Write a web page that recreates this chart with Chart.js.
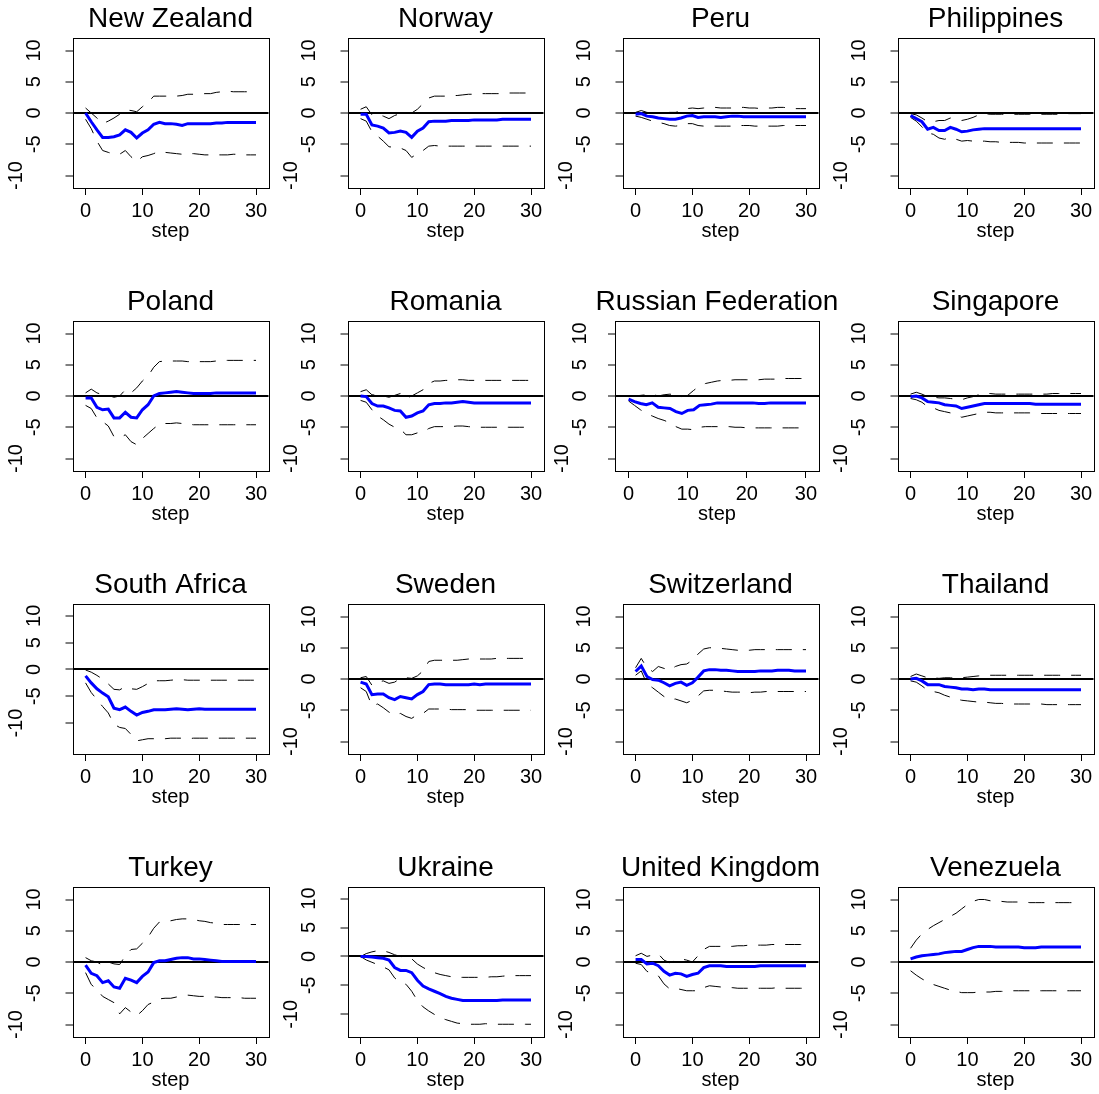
<!DOCTYPE html>
<html>
<head>
<meta charset="utf-8">
<script src="https://cdn.jsdelivr.net/npm/chart.js@4.4.1/dist/chart.umd.min.js"></script>
<style>
  html, body { margin: 0; padding: 0; background: #fff; overflow: hidden; }
  #griglia { position: relative; width: 1099px; height: 1094px; }
  .pannello { position: absolute; height: 245px; }
</style>
</head>
<body>
<div id="griglia"></div>
<script>
// --- DATI ---
const steps = [0, 1, 2, 3, 4, 5, 6, 7, 8, 9, 10, 11, 12, 13, 14, 15, 16, 17, 18, 19, 20, 21, 22, 23, 24, 25, 26, 27, 28, 29, 30];
const xTicks = [0, 10, 20, 30];
const yTicks = [-10, -5, 0, 5, 10];
const countries = ['New Zealand', 'Norway', 'Peru', 'Philippines', 'Poland', 'Romania', 'Russian Federation', 'Singapore',
  'South Africa', 'Sweden', 'Switzerland', 'Thailand', 'Turkey', 'Ukraine', 'United Kingdom', 'Venezuela'];

const irfNewZealand = [0, -1.4, -2.7, -3.9, -3.9, -3.8, -3.5, -2.7, -3.1, -4.0,
  -3.2, -2.7, -1.8, -1.5, -1.7, -1.7, -1.8, -2.0, -1.7, -1.7,
  -1.7, -1.7, -1.7, -1.6, -1.6, -1.5, -1.5, -1.5, -1.5, -1.5, -1.5];
const hiNewZealand = [0.8, 0.0, -0.8, -1.7, -1.3, -0.8, -0.2, 0.5, 0.4, 0.2,
  1.0, 1.7, 2.7, 2.7, 2.7, 2.7, 2.7, 2.8, 3.0, 3.0,
  3.0, 3.1, 3.1, 3.3, 3.4, 3.5, 3.4, 3.4, 3.4, 3.4, 3.5];
const loNewZealand = [-1.0, -2.5, -4.5, -6.0, -6.3, -6.6, -6.6, -6.0, -7.0, -7.8,
  -7.0, -6.8, -6.5, -6.1, -6.3, -6.4, -6.5, -6.6, -6.5, -6.5,
  -6.6, -6.7, -6.7, -6.7, -6.7, -6.7, -6.6, -6.6, -6.7, -6.7, -6.7];

const irfNorway = [-0.2, -0.2, -1.9, -2.1, -2.4, -3.2, -3.1, -2.9, -3.1, -3.9,
  -2.9, -2.4, -1.4, -1.3, -1.3, -1.3, -1.2, -1.2, -1.2, -1.2,
  -1.1, -1.1, -1.1, -1.1, -1.1, -1.0, -1.0, -1.0, -1.0, -1.0, -1.0];
const hiNorway = [0.6, 1.0, -0.3, -0.2, -0.5, -0.9, -0.4, -0.1, -0.1, 0.0,
  0.6, 1.5, 2.4, 2.7, 2.7, 2.7, 2.8, 2.8, 2.9, 3.0,
  3.0, 3.1, 3.1, 3.1, 3.1, 3.1, 3.2, 3.2, 3.2, 3.2, 3.2];
const loNorway = [-0.9, -1.3, -3.0, -3.7, -4.5, -5.4, -5.5, -5.6, -6.0, -7.1,
  -6.5, -6.0, -5.3, -5.2, -5.3, -5.3, -5.3, -5.3, -5.3, -5.3,
  -5.3, -5.3, -5.3, -5.3, -5.3, -5.3, -5.3, -5.3, -5.3, -5.3, -5.3];

const irfPeru = [-0.2, -0.1, -0.5, -0.6, -0.8, -0.9, -1.0, -1.0, -0.8, -0.5,
  -0.4, -0.7, -0.6, -0.6, -0.6, -0.7, -0.6, -0.5, -0.5, -0.6,
  -0.6, -0.6, -0.6, -0.6, -0.6, -0.6, -0.6, -0.6, -0.6, -0.6, -0.6];
const hiPeru = [0.1, 0.4, 0.1, 0.0, 0.0, 0.0, 0.1, 0.1, 0.3, 0.7,
  0.8, 0.7, 0.8, 0.9, 0.9, 0.8, 0.8, 0.8, 0.9, 0.9,
  0.8, 0.8, 0.7, 0.8, 0.8, 0.9, 0.9, 0.8, 0.7, 0.7, 0.7];
const loPeru = [-0.5, -0.7, -1.0, -1.3, -1.5, -1.7, -2.0, -2.1, -2.0, -1.7,
  -1.7, -2.0, -2.1, -2.1, -2.1, -2.1, -2.1, -2.1, -2.0, -2.0,
  -2.0, -2.1, -2.1, -2.1, -2.1, -2.1, -2.0, -2.0, -2.0, -2.0, -2.0];

const irfPhilippines = [-0.4, -0.9, -1.4, -2.6, -2.3, -2.8, -2.8, -2.3, -2.6, -3.0,
  -2.9, -2.7, -2.6, -2.5, -2.5, -2.5, -2.5, -2.5, -2.5, -2.5,
  -2.5, -2.5, -2.5, -2.5, -2.5, -2.5, -2.5, -2.5, -2.5, -2.5, -2.5];
const hiPhilippines = [-0.1, -0.3, -0.8, -1.4, -1.4, -1.2, -1.2, -0.8, -1.1, -1.2,
  -1.0, -0.7, -0.3, -0.1, -0.2, -0.2, -0.2, -0.2, -0.2, -0.2,
  -0.2, -0.2, -0.2, -0.2, -0.2, -0.2, -0.2, -0.1, -0.1, -0.1, -0.1];
const loPhilippines = [-0.7, -1.3, -2.2, -3.2, -3.4, -4.0, -4.2, -3.9, -4.2, -4.5,
  -4.4, -4.5, -4.5, -4.5, -4.6, -4.6, -4.7, -4.7, -4.7, -4.7,
  -4.8, -4.8, -4.8, -4.8, -4.8, -4.8, -4.8, -4.8, -4.8, -4.8, -4.8];

const irfPoland = [-0.3, -0.3, -1.8, -2.2, -2.1, -3.5, -3.5, -2.6, -3.4, -3.5,
  -2.2, -1.4, 0.0, 0.4, 0.5, 0.6, 0.7, 0.6, 0.5, 0.4,
  0.4, 0.4, 0.4, 0.5, 0.5, 0.5, 0.5, 0.5, 0.5, 0.5, 0.5];
const hiPoland = [0.5, 1.1, 0.5, 0.2, 0.1, -0.2, 0.0, 1.0, 0.5, 1.3,
  2.4, 3.2, 4.6, 5.5, 5.6, 5.6, 5.6, 5.6, 5.5, 5.5,
  5.5, 5.5, 5.5, 5.6, 5.7, 5.7, 5.7, 5.7, 5.7, 5.7, 5.7];
const loPoland = [-1.5, -2.0, -3.5, -4.1, -4.8, -6.5, -6.7, -6.2, -7.3, -7.8,
  -6.8, -6.0, -5.2, -4.5, -4.4, -4.4, -4.3, -4.4, -4.5, -4.6,
  -4.6, -4.6, -4.6, -4.6, -4.6, -4.6, -4.6, -4.6, -4.6, -4.6, -4.6];

const irfRomania = [0.0, -0.1, -1.2, -1.6, -1.6, -1.9, -2.3, -2.4, -3.4, -3.2,
  -2.7, -2.4, -1.4, -1.2, -1.2, -1.1, -1.1, -1.0, -0.9, -1.0,
  -1.1, -1.1, -1.1, -1.1, -1.1, -1.1, -1.1, -1.1, -1.1, -1.1, -1.1];
const hiRomania = [0.7, 1.0, 0.2, 0.1, 0.0, -0.2, 0.1, 0.4, -0.4, 0.0,
  0.5, 1.0, 2.0, 2.4, 2.4, 2.5, 2.5, 2.6, 2.6, 2.5,
  2.5, 2.5, 2.5, 2.5, 2.5, 2.5, 2.5, 2.5, 2.5, 2.5, 2.5];
const loRomania = [-0.7, -1.0, -2.2, -3.2, -3.8, -4.5, -5.0, -5.3, -6.2, -6.2,
  -5.9, -5.8, -5.2, -4.9, -4.9, -4.9, -4.9, -4.8, -4.8, -4.9,
  -5.0, -5.0, -5.0, -5.0, -5.0, -5.0, -5.0, -5.0, -5.0, -5.0, -5.0];

const irfRussia = [-0.5, -0.9, -1.2, -1.4, -1.1, -1.8, -1.9, -2.0, -2.5, -2.8,
  -2.3, -2.2, -1.5, -1.4, -1.3, -1.1, -1.1, -1.1, -1.1, -1.1,
  -1.1, -1.1, -1.2, -1.2, -1.1, -1.1, -1.1, -1.1, -1.1, -1.1, -1.1];
const hiRussia = [-0.1, 0.0, 0.1, 0.2, 0.3, 0.0, 0.2, 0.3, 0.1, -0.1,
  0.1, 0.9, 1.6, 2.0, 2.2, 2.4, 2.5, 2.5, 2.6, 2.6,
  2.6, 2.6, 2.6, 2.7, 2.7, 2.7, 2.8, 2.8, 2.8, 2.8, 2.8];
const loRussia = [-0.8, -1.5, -2.2, -2.8, -3.2, -3.6, -3.9, -4.3, -4.9, -5.3,
  -5.3, -5.4, -5.0, -4.9, -4.9, -4.9, -4.9, -4.9, -5.0, -5.0,
  -5.1, -5.1, -5.1, -5.1, -5.1, -5.1, -5.1, -5.1, -5.1, -5.1, -5.1];

const irfSingapore = [-0.1, 0.0, -0.3, -0.9, -1.0, -1.1, -1.4, -1.5, -1.6, -2.0,
  -1.8, -1.6, -1.4, -1.2, -1.2, -1.2, -1.2, -1.2, -1.2, -1.2,
  -1.2, -1.2, -1.3, -1.3, -1.3, -1.3, -1.3, -1.3, -1.3, -1.3, -1.3];
const hiSingapore = [0.3, 0.6, 0.3, -0.1, -0.2, -0.3, -0.3, -0.4, -0.5, -0.6,
  -0.3, -0.1, 0.2, 0.4, 0.4, 0.3, 0.3, 0.3, 0.3, 0.3,
  0.3, 0.3, 0.3, 0.3, 0.3, 0.4, 0.4, 0.4, 0.4, 0.4, 0.4];
const loSingapore = [-0.4, -0.6, -1.0, -1.7, -1.9, -2.3, -2.5, -2.7, -3.0, -3.4,
  -3.2, -3.0, -2.8, -2.6, -2.6, -2.7, -2.7, -2.7, -2.7, -2.7,
  -2.7, -2.7, -2.7, -2.8, -2.8, -2.8, -2.8, -2.8, -2.8, -2.8, -2.8];

const irfSouthAfrica = [-1.2, -2.5, -3.6, -4.4, -5.1, -7.2, -7.5, -7.0, -7.8, -8.5,
  -8.0, -7.8, -7.5, -7.5, -7.5, -7.4, -7.3, -7.4, -7.5, -7.4,
  -7.3, -7.4, -7.4, -7.4, -7.4, -7.4, -7.4, -7.4, -7.4, -7.4, -7.4];
const hiSouthAfrica = [-0.1, -0.5, -1.1, -1.8, -2.7, -3.7, -3.8, -3.2, -3.6, -3.7,
  -3.2, -2.6, -2.1, -2.1, -2.1, -2.0, -1.9, -1.9, -2.0, -2.0,
  -2.0, -2.0, -2.0, -2.0, -2.0, -2.0, -2.0, -2.0, -2.0, -2.0, -2.0];
const loSouthAfrica = [-2.5, -4.3, -5.6, -6.9, -8.1, -10.2, -10.8, -11.0, -12.1, -13.3,
  -13.1, -12.9, -12.9, -13.0, -12.9, -12.8, -12.8, -12.8, -12.9, -12.8,
  -12.8, -12.8, -12.8, -12.8, -12.8, -12.8, -12.8, -12.8, -12.8, -12.8, -12.8];

const irfSweden = [-0.5, -0.8, -2.5, -2.4, -2.4, -3.0, -3.3, -2.8, -3.0, -3.2,
  -2.5, -2.0, -0.9, -0.8, -0.8, -0.9, -0.9, -0.9, -0.9, -0.9,
  -0.8, -0.9, -0.8, -0.8, -0.8, -0.8, -0.8, -0.8, -0.8, -0.8, -0.8];
const hiSweden = [0.2, 0.4, -1.0, -0.5, -0.3, -0.7, -0.5, 0.1, 0.2, 0.1,
  0.5, 1.3, 2.8, 3.0, 3.0, 3.0, 3.0, 3.0, 3.1, 3.2,
  3.2, 3.2, 3.2, 3.2, 3.3, 3.3, 3.3, 3.3, 3.3, 3.3, 3.3];
const loSweden = [-1.4, -2.0, -4.3, -4.0, -4.6, -5.3, -5.8, -5.5, -6.0, -6.3,
  -5.7, -5.5, -4.8, -4.8, -4.8, -4.8, -4.9, -4.9, -4.9, -4.9,
  -5.0, -5.0, -5.0, -5.0, -5.0, -5.0, -5.0, -5.0, -5.0, -5.0, -5.0];

const irfSwitzerland = [1.2, 2.1, 0.4, -0.1, -0.2, -0.6, -1.1, -0.7, -0.5, -1.0,
  -0.6, 0.3, 1.3, 1.5, 1.5, 1.4, 1.4, 1.3, 1.2, 1.2,
  1.2, 1.2, 1.3, 1.3, 1.3, 1.4, 1.4, 1.4, 1.3, 1.3, 1.3];
const hiSwitzerland = [1.8, 3.3, 1.8, 1.2, 2.0, 1.7, 1.4, 2.0, 2.3, 2.4,
  3.0, 4.0, 4.8, 5.0, 5.0, 4.9, 4.8, 4.7, 4.6, 4.6,
  4.6, 4.7, 4.7, 4.7, 4.7, 4.7, 4.7, 4.7, 4.7, 4.7, 4.7];
const loSwitzerland = [0.6, 1.3, -0.8, -1.4, -2.1, -2.8, -3.3, -3.2, -3.5, -3.8,
  -3.4, -2.7, -1.9, -1.8, -1.8, -1.9, -2.0, -2.1, -2.1, -2.1,
  -2.2, -2.1, -2.1, -2.0, -2.0, -2.0, -2.0, -2.0, -2.0, -2.0, -2.0];

const irfThailand = [0.0, 0.1, -0.3, -0.9, -0.9, -0.9, -1.2, -1.3, -1.4, -1.6,
  -1.6, -1.7, -1.6, -1.6, -1.7, -1.7, -1.7, -1.7, -1.7, -1.7,
  -1.7, -1.7, -1.7, -1.7, -1.7, -1.7, -1.7, -1.7, -1.7, -1.7, -1.7];
const hiThailand = [0.4, 0.8, 0.5, 0.2, 0.2, 0.1, 0.2, 0.2, 0.1, 0.2,
  0.3, 0.4, 0.5, 0.6, 0.6, 0.6, 0.6, 0.6, 0.6, 0.6,
  0.6, 0.6, 0.6, 0.6, 0.6, 0.6, 0.6, 0.6, 0.6, 0.6, 0.6];
const loThailand = [-0.3, -0.5, -1.1, -1.8, -2.0, -2.2, -2.6, -2.9, -3.2, -3.4,
  -3.5, -3.6, -3.7, -3.7, -3.8, -3.9, -3.9, -4.0, -4.0, -4.0,
  -4.0, -4.0, -4.0, -4.0, -4.1, -4.1, -4.1, -4.1, -4.1, -4.1, -4.1];

const irfTurkey = [-0.5, -1.8, -2.2, -3.3, -3.0, -4.0, -4.2, -2.6, -2.9, -3.3,
  -2.3, -1.6, -0.1, 0.2, 0.2, 0.4, 0.6, 0.7, 0.7, 0.5,
  0.5, 0.4, 0.3, 0.2, 0.1, 0.1, 0.1, 0.1, 0.1, 0.1, 0.1];
const hiTurkey = [0.7, 0.2, 0.0, -0.5, 0.0, -0.3, -0.4, 1.0, 2.0, 2.1,
  3.0, 4.0, 5.4, 6.4, 6.5, 6.6, 6.8, 6.9, 6.9, 6.8,
  6.6, 6.5, 6.3, 6.2, 6.0, 6.0, 6.0, 6.0, 6.0, 6.0, 6.0];
const loTurkey = [-1.7, -3.6, -4.4, -5.5, -6.0, -6.5, -8.3, -7.3, -8.0, -8.6,
  -7.8, -6.8, -6.4, -5.9, -5.8, -5.8, -5.6, -5.5, -5.3, -5.4,
  -5.5, -5.5, -5.6, -5.6, -5.7, -5.7, -5.7, -5.7, -5.8, -5.8, -5.8];

const irfUkraine = [0.0, 0.0, -0.1, -0.2, -0.3, -0.6, -1.9, -2.4, -2.4, -2.8,
  -4.1, -5.1, -5.6, -6.0, -6.4, -6.9, -7.2, -7.4, -7.6, -7.6,
  -7.6, -7.6, -7.6, -7.6, -7.6, -7.5, -7.5, -7.5, -7.5, -7.5, -7.5];
const hiUkraine = [0.0, 0.5, 0.8, 1.0, 1.0, 0.7, 0.3, 0.0, -0.1, -0.4,
  -1.3, -1.9, -2.4, -2.8, -3.1, -3.3, -3.5, -3.6, -3.6, -3.6,
  -3.6, -3.6, -3.6, -3.5, -3.5, -3.4, -3.3, -3.3, -3.3, -3.3, -3.3];
const loUkraine = [0.0, -0.6, -1.0, -1.4, -1.8, -2.3, -3.7, -4.5, -4.8, -6.0,
  -7.6, -8.7, -9.4, -10.0, -10.6, -10.9, -11.2, -11.5, -11.6, -11.7,
  -11.7, -11.7, -11.6, -11.7, -11.7, -11.7, -11.7, -11.7, -11.7, -11.7, -11.7];

const irfUK = [0.4, 0.4, -0.3, -0.2, -0.6, -1.5, -2.1, -1.8, -1.9, -2.3,
  -2.0, -1.8, -0.9, -0.6, -0.6, -0.6, -0.7, -0.7, -0.7, -0.7,
  -0.7, -0.7, -0.6, -0.6, -0.6, -0.6, -0.6, -0.6, -0.6, -0.6, -0.6];
const hiUK = [1.0, 1.4, 0.9, 1.1, 1.3, 0.3, -0.1, 0.2, 0.5, 0.3,
  0.0, 1.0, 2.0, 2.5, 2.5, 2.5, 2.5, 2.5, 2.6, 2.6,
  2.7, 2.7, 2.7, 2.7, 2.8, 2.8, 2.8, 2.8, 2.8, 2.8, 2.8];
const loUK = [-0.2, -0.4, -1.5, -1.8, -2.2, -3.5, -4.3, -4.2, -4.4, -4.6,
  -4.6, -4.6, -4.1, -3.8, -3.9, -4.0, -4.1, -4.1, -4.2, -4.2,
  -4.2, -4.2, -4.2, -4.2, -4.2, -4.1, -4.2, -4.2, -4.2, -4.2, -4.2];

const irfVenezuela = [0.5, 0.8, 1.0, 1.1, 1.2, 1.3, 1.5, 1.6, 1.7, 1.7,
  2.0, 2.3, 2.5, 2.5, 2.5, 2.4, 2.4, 2.4, 2.4, 2.4,
  2.3, 2.3, 2.3, 2.4, 2.4, 2.4, 2.4, 2.4, 2.4, 2.4, 2.4];
const hiVenezuela = [2.2, 3.5, 4.5, 5.2, 5.8, 6.3, 6.8, 7.3, 7.8, 8.5,
  9.2, 9.7, 10.0, 10.0, 9.8, 9.7, 9.7, 9.6, 9.6, 9.6,
  9.6, 9.5, 9.5, 9.5, 9.5, 9.5, 9.5, 9.5, 9.5, 9.5, 9.5];
const loVenezuela = [-1.4, -2.1, -2.7, -3.2, -3.6, -3.9, -4.2, -4.5, -4.7, -4.9,
  -4.9, -4.9, -4.8, -4.8, -4.8, -4.7, -4.7, -4.7, -4.6, -4.6,
  -4.6, -4.6, -4.6, -4.6, -4.6, -4.6, -4.6, -4.6, -4.6, -4.6, -4.6];

// un pannello per paese: risposta (blu) e bande (tratteggiate)
const pannelli = [
  [irfNewZealand, hiNewZealand, loNewZealand],
  [irfNorway, hiNorway, loNorway],
  [irfPeru, hiPeru, loPeru],
  [irfPhilippines, hiPhilippines, loPhilippines],
  [irfPoland, hiPoland, loPoland],
  [irfRomania, hiRomania, loRomania],
  [irfRussia, hiRussia, loRussia],
  [irfSingapore, hiSingapore, loSingapore],
  [irfSouthAfrica, hiSouthAfrica, loSouthAfrica],
  [irfSweden, hiSweden, loSweden],
  [irfSwitzerland, hiSwitzerland, loSwitzerland],
  [irfThailand, hiThailand, loThailand],
  [irfTurkey, hiTurkey, loTurkey],
  [irfUkraine, hiUkraine, loUkraine],
  [irfUK, hiUK, loUK],
  [irfVenezuela, hiVenezuela, loVenezuela]
];

// Limiti asse y diversi per alcuni paesi
const limitiY = { 'South Africa': [-15.75, 12.2], 'Ukraine': [-13.9, 12.0] };

const FONT = "'Liberation Sans', Arial, Helvetica, sans-serif";
Chart.defaults.font.family = FONT;
Chart.defaults.color = '#000';

// cornice attorno all'area del grafico (stile R)
const cornice = {
  id: 'cornice',
  afterDraw(chart) {
    const { ctx, chartArea: a } = chart;
    ctx.save();
    ctx.strokeStyle = '#000';
    ctx.lineWidth = 1;
    ctx.strokeRect(Math.round(a.left) + 0.5, Math.round(a.top) + 0.5,
      Math.round(a.right - a.left), Math.round(a.bottom - a.top));
    ctx.restore();
  }
};

// etichette asse y ruotate (come las=0 in R), posizionate con la scala y
const etichetteY = {
  id: 'etichetteY',
  afterDraw(chart, args, opts) {
    const { ctx, chartArea: a, scales: { y } } = chart;
    ctx.save();
    ctx.fillStyle = '#000';
    ctx.font = '20px ' + FONT;
    ctx.textAlign = 'center';
    ctx.textBaseline = 'middle';
    yTicks.forEach(v => {
      const dx = v === -10 ? opts.lontano : opts.vicino;
      ctx.save();
      ctx.translate(a.left - dx, y.getPixelForValue(v));
      ctx.rotate(-Math.PI / 2);
      ctx.fillText(String(v), 0, 0);
      ctx.restore();
    });
    ctx.restore();
  }
};

const punti = arr => steps.map((s, i) => ({ x: s, y: arr[i] }));
const griglia = document.getElementById('griglia');

pannelli.forEach((serie, k) => {
  const nome = countries[k];
  const col = k % 4, riga = Math.floor(k / 4);
  const russa = nome === 'Russian Federation';
  const margine = russa ? 65 : 72.5;      // spazio a sinistra del riquadro
  const destraBox = 269;                  // bordo destro del riquadro nel pannello
  // canvas simmetrico attorno al riquadro (asse vuoto a destra): il titolo resta centrato
  const larghezza = margine + destraBox;

  const div = document.createElement('div');
  div.className = 'pannello';
  div.style.left = (col * 275) + 'px';
  div.style.top = (riga * 283) + 'px';
  div.style.width = larghezza + 'px';
  const canvas = document.createElement('canvas');
  canvas.width = larghezza;
  canvas.height = 245;
  div.appendChild(canvas);
  griglia.appendChild(div);

  const [yMin, yMax] = limitiY[nome] || [-12, 12];

  new Chart(canvas.getContext('2d'), {
    type: 'line',
    data: {
      datasets: [
        { data: punti(serie[0]), borderColor: '#0000ff', borderWidth: 3, pointRadius: 0, tension: 0 },
        { data: punti(serie[1]), borderColor: '#000', borderWidth: 1, borderDash: [16, 11], pointRadius: 0, tension: 0 },
        { data: punti(serie[2]), borderColor: '#000', borderWidth: 1, borderDash: [16, 11], pointRadius: 0, tension: 0 }
      ]
    },
    options: {
      responsive: false,
      animation: false,
      events: [],
      layout: { padding: 0 },
      plugins: {
        legend: { display: false },
        tooltip: { enabled: false },
        title: {
          display: true,
          text: nome,
          color: '#000',
          font: { size: 28, weight: 'normal' },
          padding: { top: 2, bottom: 2.4 }
        },
        etichetteY: russa ? { vicino: 35, lontano: 53 } : { vicino: 38.5, lontano: 56.5 }
      },
      scales: {
        x: {
          type: 'linear',
          min: -2.3,
          max: 32.2,
          afterBuildTicks: s => { s.ticks = xTicks.map(v => ({ value: v })); },
          afterFit: s => { s.height = 57; },
          border: { display: false },
          grid: { drawOnChartArea: false, drawTicks: true, tickLength: 7, tickColor: '#000', tickWidth: 1, color: '#000' },
          ticks: { autoSkip: false, maxRotation: 0, padding: 4.6, color: '#000', font: { size: 20 } },
          title: { display: true, text: 'step', color: '#000', font: { size: 20 }, padding: { top: 0, bottom: 2 } }
        },
        y: {
          type: 'linear',
          position: 'left',
          min: yMin,
          max: yMax,
          bounds: 'data',
          afterBuildTicks: s => { s.ticks = yTicks.map(v => ({ value: v })); },
          afterFit: s => { s.width = margine; },
          border: { display: false },
          grid: {
            drawOnChartArea: true,
            drawTicks: true,
            tickLength: 7,
            tickColor: '#000',
            tickWidth: 1,
            color: c => (c.tick && c.tick.value === 0) ? '#000' : 'rgba(0,0,0,0)',
            lineWidth: c => (c.tick && c.tick.value === 0) ? 2 : 0
          },
          ticks: { display: false }
        },
        // asse vuoto a destra, solo per bilanciare lo spazio del titolo
        vuoto: {
          type: 'linear',
          position: 'right',
          min: yMin,
          max: yMax,
          afterFit: s => { s.width = margine; },
          border: { display: false },
          grid: { display: false },
          ticks: { display: false }
        }
      }
    },
    plugins: [cornice, etichetteY]
  });
});
</script>
</body>
</html>
